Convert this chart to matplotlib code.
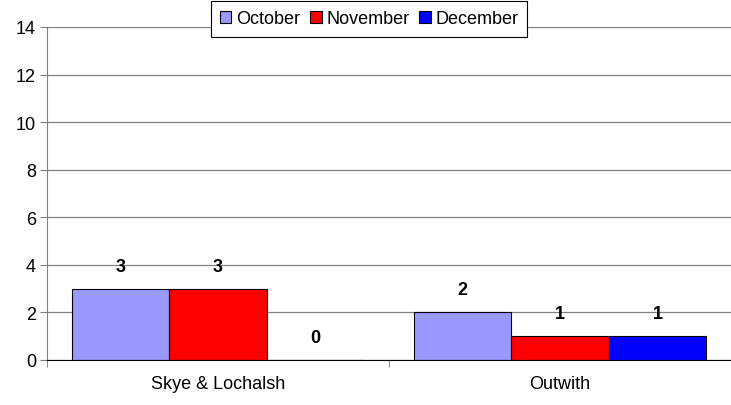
import numpy as np
import matplotlib.pyplot as plt
from matplotlib.ticker import FixedLocator, NullFormatter

plt.rcParams['font.family'] = ['Liberation Sans', 'DejaVu Sans']

areas = ["Skye & Lochalsh", "Outwith"]
months = ["October", "November", "December"]
october = [3, 2]
november = [3, 1]
december = [0, 1]
colors = ["#9999FF", "#FF0000", "#0000FF"]

fig = plt.figure(figsize=(7.31, 4.06), dpi=100)
ax = fig.add_axes([47 / 731, 1 - 361 / 406, 1 - 47 / 731, (361 - 28) / 406])

x = np.arange(len(areas))
width = 0.285
series = [october, november, december]
for i, (vals, name, c) in enumerate(zip(series, months, colors)):
    pos = x + (i - 1) * width
    ax.bar(pos, vals, width, color=c, edgecolor="black", linewidth=0.8,
           label=name, zorder=3)
    for xp, v in zip(pos, vals):
        ax.text(xp, v + 0.95, str(v), ha="center", va="center",
                fontsize=13, fontweight="bold", zorder=4)

ax.set_xlim(-0.5, 1.5)
ax.set_ylim(0, 14)
ax.set_yticks(range(0, 15, 2))
ax.yaxis.grid(True, color="#808080", linewidth=0.9, zorder=0)
ax.set_xticks(x)
ax.set_xticklabels(areas, fontsize=13)
ax.tick_params(axis="x", which="major", length=0, pad=11)
ax.xaxis.set_minor_locator(FixedLocator([-0.5, 0.5, 1.5]))
ax.xaxis.set_minor_formatter(NullFormatter())
ax.tick_params(axis="x", which="minor", length=5, color="#808080")
ax.tick_params(axis="y", labelsize=13, length=5, color="#808080", pad=3)

for s in ["top", "right"]:
    ax.spines[s].set_visible(False)
ax.spines["left"].set_color("#808080")
ax.spines["bottom"].set_color("black")
ax.spines["bottom"].set_zorder(5)

leg = fig.legend(loc="center", bbox_to_anchor=(369 / 731, 1 - 20 / 406), ncol=3,
                 fontsize=13, frameon=True, fancybox=False, edgecolor="black",
                 handlelength=0.65, handleheight=0.65, handletextpad=0.25,
                 columnspacing=0.55, borderpad=0.5, borderaxespad=0,
                 framealpha=1)
leg.get_frame().set_linewidth(0.8)

fig.savefig("out.png", dpi=100)
